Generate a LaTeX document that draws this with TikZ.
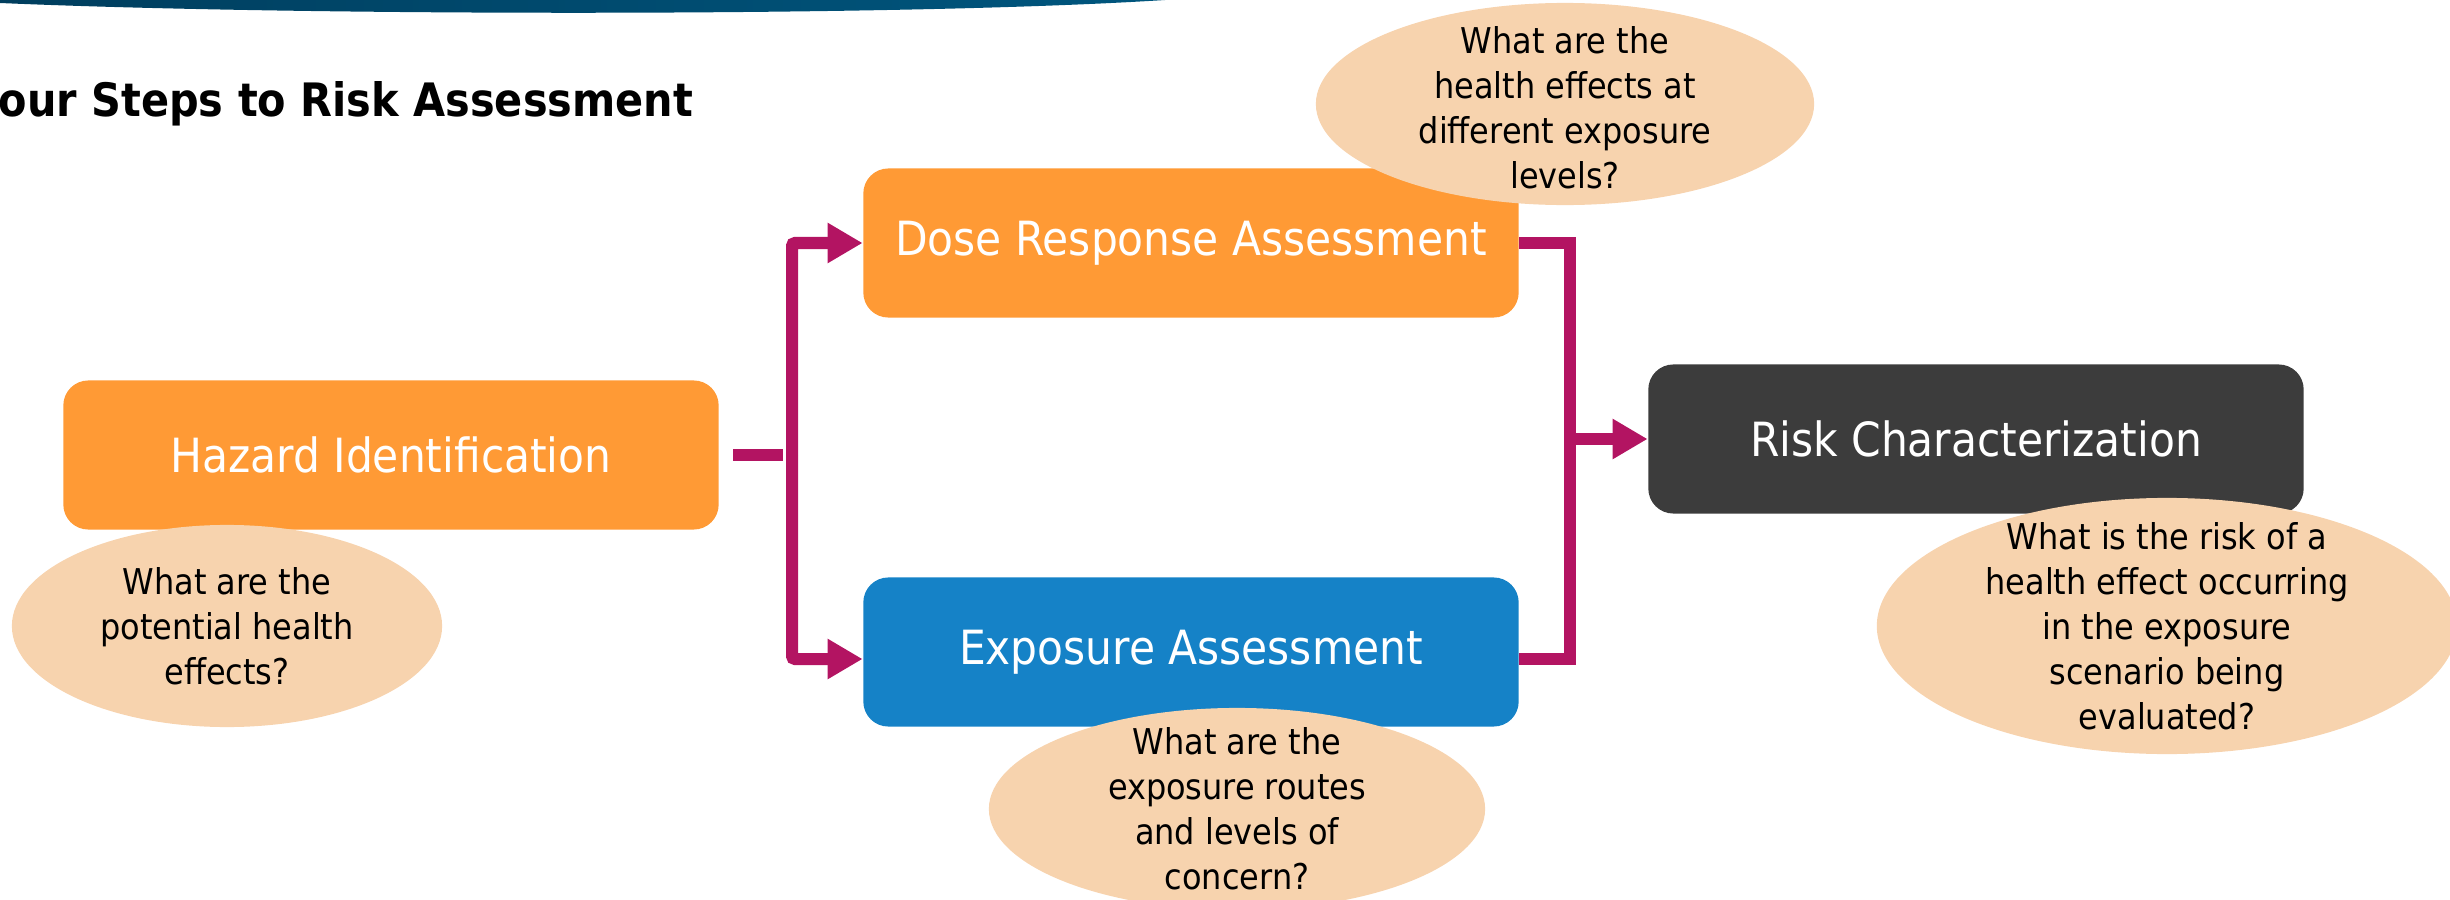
\documentclass[tikz,border=0pt]{standalone}
\usepackage{fontspec}
\setmainfont{DejaVu Sans Condensed}
\usepackage{tikz}
\usetikzlibrary{
    arrows.meta,
    shapes.geometric,
    positioning
}
\definecolor{stepOrange}{RGB}{255,154,53}
\definecolor{stepBlue}{RGB}{21,130,199}
\definecolor{stepDark}{RGB}{60,60,60}
\definecolor{askPeach}{RGB}{247,211,174}
\definecolor{linkMagenta}{RGB}{179,20,98}
\definecolor{bannerDark}{RGB}{0,62,94}
\definecolor{bannerLight}{RGB}{0,86,126}
\tikzset
{
  stepbox/.style={rounded corners=0.25cm,minimum width=6.55cm,minimum height=1.49cm,inner sep=0pt,text=white,font=\fontsize{13.4}{16}\selectfont},
  question/.style={ellipse,fill=askPeach,inner sep=0pt},
  asktext/.style={align=center,inner sep=0pt,font=\fontsize{10.1}{12.8}\selectfont},
  link/.style={draw=linkMagenta,line width=0.12cm},
  linkarrow/.style={link,-{Triangle[length=0.35cm,width=0.38cm]}}
}

\begin{document}
\begin{tikzpicture}[x=0.01cm,y=-0.01cm]
        \useasboundingbox (0,0) rectangle (2450,900);

        % Banner and title
        \shade[left color=bannerDark,right color=bannerLight] (0,0) -- (0,3) .. controls (300,16) and (900,17) .. (1165,0) -- cycle;
        \node[anchor=west,inner sep=0pt,font=\fontsize{13.1}{16}\selectfont\bfseries] (title) at (-2,104) {our Steps to Risk Assessment};

        % The four steps
        \node[stepbox,fill=stepOrange] (hazard) at (391,455) {Hazard Identification};
        \node[stepbox,fill=stepOrange] (dose) at (1191,243) {Dose Response Assessment};
        \node[stepbox,fill=stepBlue] (expo) at (1191,652) {Exposure Assessment};
        \node[stepbox,fill=stepDark] (risk) at (1976,439) {Risk Characterization};

        % Questions
        \node[question,minimum width=4.3cm,minimum height=2.02cm] (askHazard) at (227,626) {};
        \node[asktext] at (askHazard) {What are the\\potential health\\effects?};
        \node[question,minimum width=4.98cm,minimum height=2.02cm] (askDose) at (1565,104) {};
        \node[asktext] at (1565,108) {What are the\\health effects at\\different exposure\\levels?};
        \node[question,minimum width=4.96cm,minimum height=2.02cm] (askExpo) at (1237,809) {};
        \node[asktext] at (askExpo) {What are the\\exposure routes\\and levels of\\concern?};
        \node[question,minimum width=5.8cm,minimum height=2.56cm] (askRisk) at (2167,626) {};
        \node[asktext] at (askRisk) {What is the risk of a\\health effect occurring\\in the exposure\\scenario being\\evaluated?};

        % Connectors
        \coordinate (split) at (792,455);
        \coordinate (merge) at (1570,439);
        \draw[link] ([xshift=0.14cm]hazard.east) -- ([xshift=-0.09cm]split);
        \draw[linkarrow,rounded corners=0.03cm] (split) |- (dose.west);
        \draw[linkarrow,rounded corners=0.03cm] (split) |- ([yshift=-0.07cm]expo.west);
        \draw[link] (dose.east) -| (merge);
        \draw[link] ([yshift=-0.07cm]expo.east) -| (merge);
        \draw[linkarrow] (merge) -- (risk.west);
    \end{tikzpicture}
\end{document}
